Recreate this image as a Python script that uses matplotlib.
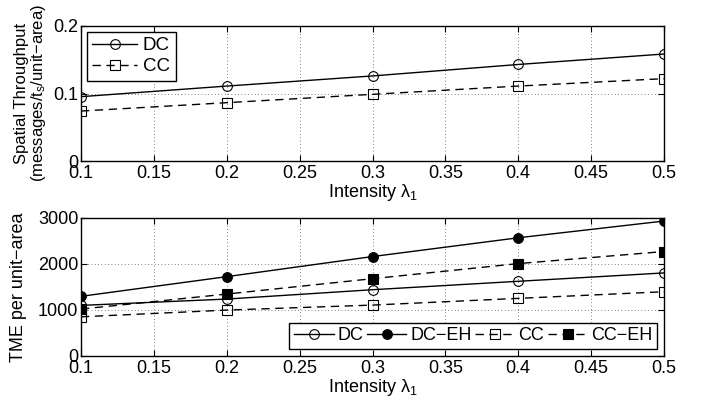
import numpy as np
import matplotlib
matplotlib.use("Agg")
from matplotlib import pyplot as plt

plt.rcParams['font.family'] = ['Liberation Sans', 'DejaVu Sans']
plt.rcParams['mathtext.fontset'] = 'custom'
plt.rcParams['mathtext.rm'] = 'Liberation Sans'
plt.rcParams['mathtext.it'] = 'Liberation Sans'

intensity = [0.1, 0.2, 0.3, 0.4, 0.5]

# spatial throughput
thr_dc = [0.0953, 0.111, 0.126, 0.143, 0.1585]
thr_cc = [0.074, 0.0864, 0.0988, 0.111, 0.122]

# TME per unit area
tme_dc = [1100, 1238, 1441, 1624, 1806]
tme_dc_eh = [1297, 1725, 2162, 2570, 2934]
tme_cc = [852, 998, 1107, 1253, 1397]
tme_cc_eh = [1020, 1347, 1681, 2009, 2271]

xticks = [0.1, 0.15, 0.2, 0.25, 0.3, 0.35, 0.4, 0.45, 0.5]
xticklabels = ['0.1', '0.15', '0.2', '0.25', '0.3', '0.35', '0.4', '0.45', '0.5']

fs = 13
fig = plt.figure(figsize=(7.07, 4.04), dpi=100)
ax1 = fig.add_axes([81/707, 1-161/404, 583/707, 135/404])
ax2 = fig.add_axes([81/707, 1-356/404, 583/707, 138/404])

def style(ax):
    ax.set_xlim(0.1, 0.5)
    ax.set_xticks(xticks)
    ax.set_xticklabels(xticklabels)
    ax.tick_params(direction='in', labelsize=fs, length=4, width=0.8, top=True, right=True, pad=2)
    ax.tick_params(axis='x', pad=3)
    ax.grid(True, linestyle=(0, (1, 3)), color='#555555', linewidth=0.6)
    for s in ax.spines.values():
        s.set_linewidth(1.0)
    ax.set_xlabel('Intensity $\\lambda_1$', fontsize=fs, labelpad=0)

mk = dict(markersize=7, markeredgewidth=0.8, color='k', linewidth=1.0)

ax1.plot(intensity, thr_dc, '-o', markerfacecolor='none', label='DC', **mk)
ax1.plot(intensity, thr_cc, '--s', markerfacecolor='none', label='CC', dashes=(6, 4), **mk)
ax1.set_ylim(0, 0.2)
ax1.set_yticks([0, 0.1, 0.2])
ax1.set_yticklabels(['0', '0.1', '0.2'])
style(ax1)
ax1.set_ylabel('Spatial Throughput\n(messages/t$_s$/unit\u2212area)', fontsize=12, linespacing=1.0)
ax1.yaxis.set_label_coords(-0.056, 0.5)
leg1 = ax1.legend(loc='upper left', fontsize=fs + 0.5, fancybox=False, edgecolor='k', framealpha=1,
                  handlelength=2.4, borderaxespad=0.3, handletextpad=0.3, labelspacing=0.2,
                  borderpad=0.3)
leg1.get_frame().set_linewidth(1.0)

ax2.plot(intensity, tme_dc, '-o', markerfacecolor='none', label='DC', **mk)
ax2.plot(intensity, tme_dc_eh, '-o', markerfacecolor='k', label='DC\u2212EH', **mk)
ax2.plot(intensity, tme_cc, '--s', markerfacecolor='none', label='CC', dashes=(6, 4), **mk)
ax2.plot(intensity, tme_cc_eh, '--s', markerfacecolor='k', label='CC\u2212EH', dashes=(6, 4), **mk)
ax2.set_ylim(0, 3000)
ax2.set_yticks([0, 1000, 2000, 3000])
style(ax2)
ax2.set_ylabel('TME per unit\u2212area', fontsize=fs)
ax2.yaxis.set_label_coords(-0.093, 0.5)
leg2 = ax2.legend(loc='lower right', ncol=4, fontsize=fs, fancybox=False, edgecolor='k', framealpha=1,
                  handlelength=2.2, borderaxespad=0.4, handletextpad=0.2, columnspacing=0.2,
                  borderpad=0.25)
leg2.get_frame().set_linewidth(1.0)

fig.savefig('out.png', dpi=100)
